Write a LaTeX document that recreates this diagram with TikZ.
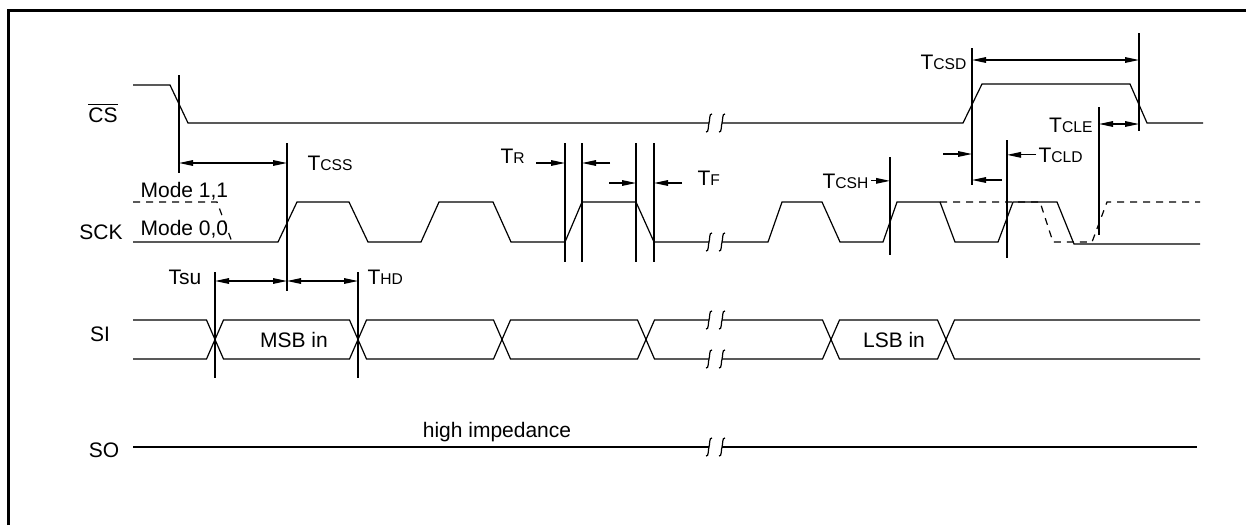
\documentclass[tikz,border=0pt]{standalone}
\usepackage{fontspec}
\setmainfont{Liberation Sans}
\usetikzlibrary{arrows.meta}
\newcommand\tsub[1]{T{\fontsize{7.8}{9}\selectfont #1}}

\begin{document}
\begin{tikzpicture}[x=0.5pt,y=-0.5pt,>={Triangle[length=7pt,width=2.8pt]},
  line width=0.6pt,
  dashwave/.style={dash pattern=on 3.5pt off 3pt},
  lbl/.style={inner sep=0pt,font=\fontsize{10.5}{12}\selectfont},
  brk/.pic={\draw[line width=0.6pt] (-3,9) .. controls (0,10) and (-1,2) .. (0,0) .. controls (1,-2) and (0,-10) .. (3,-9);}]
  \useasboundingbox (0,0) rectangle (1246,525);
  % frame
  \draw[line width=1.5pt] (8,525) -- (8,10) -- (1246,10);
  % signal names
  \node[lbl, anchor=base] (cs) at (103,122) {$\overline{\mbox{CS}}$};
  \node[lbl, anchor=base] (sck) at (101,239) {SCK};
  \node[lbl, anchor=base west] (mode11) at (140,197) {Mode 1,1};
  \node[lbl, anchor=base west] (mode00) at (140,235) {Mode 0,0};
  \node[lbl, anchor=base] (si) at (100,341) {SI};
  \node[lbl, anchor=base] (so) at (104,457) {SO};
  % CS
  \draw (133,85) -- (170,85) -- (188,123) -- (709,123) (722,123) -- (963,123) -- (982,84) -- (1130,84) -- (1147,123) -- (1203,123);
  % SCK
  \draw (133,242) -- (278,242) -- (297,202) -- (349,202) -- (368,242) -- (421,242) -- (439,202) -- (493,202) -- (511,242) -- (565,242) -- (582,202) -- (636,202) -- (654,242) -- (709,242)
    (722,242) -- (768,242) -- (782,202) -- (822,202) -- (840,242) -- (883,242) -- (897,202) -- (940,202) -- (955,242) -- (998,242) -- (1013,202) -- (1057,202) -- (1074,244) -- (1200,244);
  \draw[dashwave] (133,202) -- (217,202) -- (232,242);
  \draw[dashwave] (940,202) -- (1040,202) -- (1053,242) -- (1092,242) -- (1107,202) -- (1200,202);
  % SI
  \draw (133,320) -- (206.5,320) -- (215,339.5) -- (206.5,359) -- (133,359);
  \draw (215,339.5) -- (223.5,320) -- (349.5,320) -- (358,339.5) -- (349.5,359) -- (223.5,359) -- cycle;
  \draw (358,339.5) -- (366.5,320) -- (493.5,320) -- (502,339.5) -- (493.5,359) -- (366.5,359) -- cycle;
  \draw (502,339.5) -- (510.5,320) -- (637.5,320) -- (646,339.5) -- (637.5,359) -- (510.5,359) -- cycle;
  \draw (709,320) -- (654.5,320) -- (646,339.5) -- (654.5,359) -- (709,359)
    (722,320) -- (822.5,320) -- (831,339.5) -- (822.5,359) -- (722,359);
  \draw (831,339.5) -- (839.5,320) -- (937.5,320) -- (946,339.5) -- (937.5,359) -- (839.5,359) -- cycle;
  \draw (1200,320) -- (954.5,320) -- (946,339.5) -- (954.5,359) -- (1200,359);
  \node[lbl, anchor=base] (msb) at (294,347) {MSB in};
  \node[lbl, anchor=base] (lsb) at (894,347) {LSB in};
  % SO
  \draw (133,447) -- (709,447) (722,447) -- (1197,447);
  \node[lbl, anchor=base] (hiz) at (497,437) {high impedance};
  % breaks
  \path (709,123) pic {brk} (722,123) pic {brk}
        (709,242) pic {brk} (722,242) pic {brk}
        (709,320) pic {brk} (722,320) pic {brk}
        (709,359) pic {brk} (722,359) pic {brk}
        (709,447) pic {brk} (722,447) pic {brk};
  % timing marks
  \draw (179,75) -- (179,173);
  \draw (287,143) -- (287,291);
  \draw (565,143) -- (565,262) (582,143) -- (582,262) (636,143) -- (636,262) (654,143) -- (654,262);
  \draw (215,272) -- (215,378) (358,272) -- (358,378);
  \coordinate (csh) at (890,157);
  \draw (csh) -- (890,255);
  \draw (972,48) -- (972,185);
  \coordinate (cld) at (1007,140);
  \draw (cld) -- (1007,258);
  \draw (1099,107) -- (1099,235);
  \draw (1139,33) -- (1139,131);
  % timing labels
  \node[lbl, anchor=base west] (tcss) at (307,170) {\tsub{CSS}};
  \node[lbl, anchor=base west] (tr) at (500,163) {\tsub{R}};
  \node[lbl, anchor=base west] (tf) at (697,185) {\tsub{F}};
  \node[lbl, anchor=base east] (tsu) at (202,284) {Tsu};
  \node[lbl, anchor=base west] (thd) at (367,284) {\tsub{HD}};
  \node[lbl, anchor=base east] (tcsh) at (869,188) {\tsub{CSH}};
  \node[lbl, anchor=base east] (tcsd) at (967,69) {\tsub{CSD}};
  \node[lbl, anchor=base east] (tcle) at (1093,132) {\tsub{CLE}};
  \node[lbl, anchor=base west] (tcld) at (1038,162) {\tsub{CLD}};
  % dimension arrows
  \draw[<->] (179,163) -- (287,163);
  \draw[->] (536,163) -- (565,163);
  \draw[->] (610,163) -- (582,163);
  \draw[->] (609,183) -- (636,183);
  \draw[->] (682,183) -- (654,183);
  \draw[<->] (215,281) -- (287,281);
  \draw[<->] (287,281) -- (358,281);
  \draw[->] ([xshift=1pt]tcsh.east) -- (tcsh.east -| csh);
  \draw[<->] (972,60) -- (1139,60);
  \draw[->] (943,154) -- (972,154);
  \draw[->] (1002,180) -- (972,180);
  \draw[->] ([xshift=-1pt]tcld.west) -- (tcld.west -| cld);
  \draw[<->] (1099,124) -- (1139,124);
\end{tikzpicture}
\end{document}
